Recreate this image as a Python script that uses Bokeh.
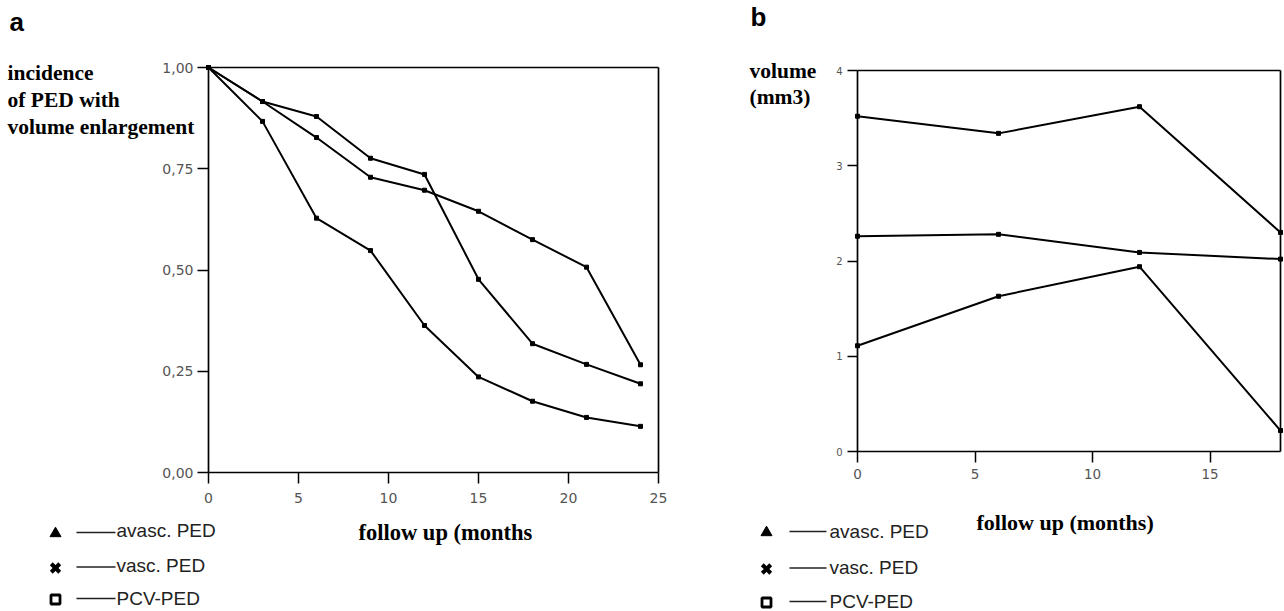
from bokeh.plotting import figure
from bokeh.models import Range1d, FixedTicker, Label, LinearAxis, CustomJSTickFormatter
from bokeh.embed import file_html
from bokeh.resources import INLINE

# ---------------- data ----------------
months_a = [0, 3, 6, 9, 12, 15, 18, 21, 24]
avasc_a = [1.00, 0.867, 0.628, 0.548, 0.363, 0.236, 0.176, 0.136, 0.114]
vasc_a = [1.00, 0.916, 0.879, 0.776, 0.736, 0.477, 0.318, 0.267, 0.219]
pcv_a = [1.00, 0.916, 0.827, 0.729, 0.697, 0.645, 0.575, 0.507, 0.266]

months_b = [0, 6, 12, 18]
avasc_b = [1.11, 1.63, 1.94, 0.22]
vasc_b = [2.26, 2.28, 2.09, 2.02]
pcv_b = [3.52, 3.34, 3.62, 2.30]

ticks_a_x = [0, 5, 10, 15, 20, 25]
ticks_a_y = [0, 0.25, 0.5, 0.75, 1.0]
ticks_b_x = [0, 5, 10, 15]
ticks_b_y = [0, 1, 2, 3, 4]

legend_names = ["avasc. PED", "vasc. PED", "PCV-PED"]
legend_markers = ["triangle", "x", "square"]

# ---------------- layout (pixels) ----------------
W, H = 1284, 611
A_BOX = dict(left=208, right=658, top=67, bottom=472, x=(0, 25), y=(0, 1))
B_BOX = dict(left=857, right=1280, top=70, bottom=451, x=(0, 18), y=(0, 4))

SERIF = "Liberation Serif"
SANS = "Liberation Sans"
TICKFONT = "DejaVu Sans"


def fit_range(v0, v1, p0, p1, total):
    s = (p1 - p0) / (v1 - v0)
    start = v0 - p0 / s
    return Range1d(start, start + total / s)


p = figure(width=W, height=H, x_range=Range1d(0, W), y_range=Range1d(H, 0),
           x_axis_type=None, y_axis_type=None, output_backend="svg",
           toolbar_location=None, min_border=0)
p.grid.visible = False
p.outline_line_color = None
p.background_fill_color = "white"
p.border_fill_color = "white"

p.extra_x_ranges = {
    "xa": fit_range(*A_BOX["x"], A_BOX["left"], A_BOX["right"], W),
    "xb": fit_range(*B_BOX["x"], B_BOX["left"], B_BOX["right"], W),
}
p.extra_y_ranges = {
    "ya": fit_range(*A_BOX["y"], H - A_BOX["bottom"], H - A_BOX["top"], H),
    "yb": fit_range(*B_BOX["y"], H - B_BOX["bottom"], H - B_BOX["top"], H),
}


def add_axis(side, xr, yr, loc, bounds, ticks, size="13px", formatter=None, standoff=5, tick_out=10):
    ax = LinearAxis(x_range_name=xr, y_range_name=yr, fixed_location=loc, bounds=bounds,
                    ticker=FixedTicker(ticks=ticks, minor_ticks=[]))
    ax.axis_line_color = "black"
    ax.axis_line_width = 1.7
    ax.major_tick_line_color = "black" if ticks else None
    ax.major_tick_line_width = 1.5
    ax.major_tick_in = 0
    ax.major_tick_out = tick_out
    ax.minor_tick_line_color = None
    ax.major_label_text_font = TICKFONT
    ax.major_label_text_color = "#555555"
    ax.major_label_text_font_size = size if ticks else "0px"
    ax.major_label_standoff = standoff
    if formatter is not None:
        ax.formatter = formatter
    p.add_layout(ax, side)


def lab(x, y, text, font, size, style="normal", color="black", align="left"):
    p.add_layout(Label(x=x, y=y, text=text, text_font=font, text_font_size=size,
                       text_font_style=style, text_color=color, text_align=align,
                       text_baseline="alphabetic"))


def draw_series(xs, ys, xr, yr):
    p.line(xs, ys, line_color="black", line_width=2.0, x_range_name=xr, y_range_name=yr)
    p.scatter(xs, ys, marker="square", size=4, fill_color="black", line_color="black",
              x_range_name=xr, y_range_name=yr)


def legend(sym_x, line_x0, line_x1, text_x, centers, text_ys):
    for mk, name, cy, ty in zip(legend_markers, legend_names, centers, text_ys):
        if mk == "triangle":
            p.scatter([sym_x], [cy], marker="triangle", size=11, fill_color="black", line_color="black")
        elif mk == "x":
            p.scatter([sym_x], [cy], marker="x", size=12, line_color="black", line_width=4)
        else:
            p.scatter([sym_x], [cy], marker="square", size=9, fill_color="white",
                      line_color="black", line_width=2.8)
        p.segment(x0=[line_x0], y0=[cy - 1], x1=[line_x1], y1=[cy - 1], line_color="#222222", line_width=1.4)
        lab(text_x, ty, name, SANS, "19px", color="#222222")


# ---------------- panel a ----------------
fmt_a = CustomJSTickFormatter(code="return tick.toFixed(2).replace('.', ',');")
add_axis("below", "xa", "ya", 0, A_BOX["x"], ticks_a_x, "14px", standoff=9, tick_out=11)
add_axis("left", "xa", "ya", 0, A_BOX["y"], ticks_a_y, "14px", formatter=fmt_a, standoff=4, tick_out=11)
add_axis("above", "xa", "ya", 1, A_BOX["x"], [])
add_axis("right", "xa", "ya", 25, A_BOX["y"], [])

for ys in (avasc_a, vasc_a, pcv_a):
    draw_series(months_a, ys, "xa", "ya")

lab(9, 21.5, "a", SANS, "26px", style="bold")
lab(7, 72.5, "incidence", SERIF, "21.5px", style="bold")
lab(7, 99, "of PED with", SERIF, "21.5px", style="bold")
lab(7, 126, "volume enlargement", SERIF, "21.5px", style="bold")
lab(358, 531.5, "follow up (months", SERIF, "22.5px", style="bold")
legend(55, 76, 115, 116, [533, 567.5, 599], [529.5, 565, 597.5])

# ---------------- panel b ----------------
add_axis("below", "xb", "yb", 0, B_BOX["x"], ticks_b_x, "13.5px", standoff=6, tick_out=11)
add_axis("left", "xb", "yb", 0, B_BOX["y"], ticks_b_y, "10px", standoff=5, tick_out=10)
add_axis("above", "xb", "yb", 4, B_BOX["x"], [])
add_axis("right", "xb", "yb", 18, B_BOX["y"], [])

for ys in (avasc_b, vasc_b, pcv_b):
    draw_series(months_b, ys, "xb", "yb")

lab(750, 16, "b", SANS, "26px", style="bold")
lab(749, 70.5, "volume", SERIF, "21.5px", style="bold")
lab(749, 96, "(mm3)", SERIF, "21.5px", style="bold")
lab(976, 521.5, "follow up (months)", SERIF, "22px", style="bold")
legend(766, 789, 826, 829, [532, 568.5, 602], [530.5, 567, 600.5])

open("out.html", "w").write(file_html(p, INLINE))
